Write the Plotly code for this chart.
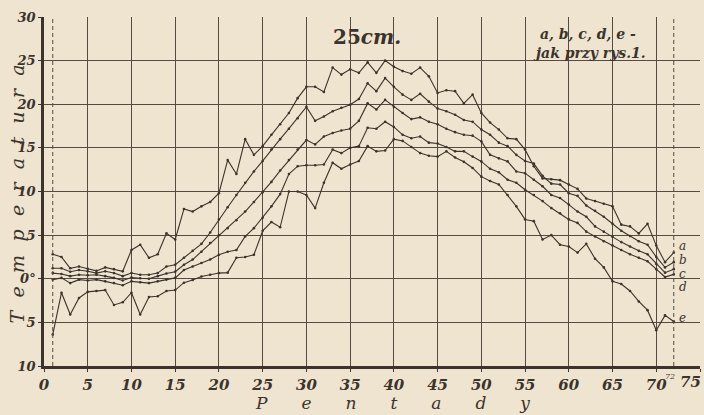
import plotly.graph_objects as go

pentads = list(range(1, 73))

series_a = [2.8, 2.5, 1.2, 1.4, 1.15, 0.9, 1.3, 1.1, 0.85, 3.3,
            3.9, 2.4, 2.8, 5.2, 4.5, 8.0, 7.7, 8.3, 8.8, 9.8,
            13.6, 12.0, 16.0, 14.2, 15.2, 16.5, 17.7, 19.0, 20.7, 22.0,
            22.0, 21.4, 24.2, 23.4, 24.0, 23.6, 24.8, 23.6, 25.0, 24.3,
            23.8, 23.5, 24.2, 23.2, 21.3, 21.6, 21.5, 20.1, 21.1, 19.0,
            17.9, 17.1, 16.1, 16.0, 14.8, 12.9, 11.5, 11.4, 11.3, 10.8,
            10.3, 9.2, 8.9, 8.6, 8.3, 6.2, 6.0, 5.2, 6.3, 3.8,
            1.9, 3.0]
series_b = [1.2, 1.2, 0.8, 1.0, 0.85, 0.65, 0.85, 0.65, 0.3, 0.65,
            0.45, 0.45, 0.65, 1.4, 1.6, 2.4, 3.2, 4.0, 5.3, 6.8,
            8.2, 9.6, 11.0, 12.3, 13.5, 14.8, 16.0, 17.2, 18.4, 19.7,
            18.1, 18.6, 19.2, 19.6, 19.95, 20.6, 22.4, 21.5, 23.0, 22.0,
            21.1, 20.5, 21.2, 20.3, 19.5, 19.2, 18.8, 18.2, 18.0, 17.1,
            16.5, 15.6, 15.2, 14.2, 13.5, 13.2, 11.8, 10.9, 10.8, 9.8,
            9.5, 8.4, 7.8, 7.1, 6.3, 5.5, 4.9, 4.3, 3.9, 2.5,
            1.3, 1.9]
series_c = [0.65, 0.55, 0.3, 0.45, 0.4, 0.45, 0.3, 0.1, -0.2, 0.15,
            0.05, 0.0, 0.3, 0.6, 0.8, 1.6, 2.2, 3.1, 4.1, 5.0,
            5.8, 6.7, 7.7, 8.8, 9.9, 11.1, 12.4, 13.6, 14.8, 15.9,
            15.4, 16.3, 16.7, 17.0, 17.2, 18.1, 20.1, 19.4, 20.5, 19.7,
            19.0, 18.3, 18.5, 18.0, 17.7, 17.2, 16.8, 16.5, 16.4, 15.75,
            14.2, 13.8, 13.45, 12.3, 12.1, 11.35, 10.6, 9.6, 9.25, 8.5,
            7.7, 7.1, 6.0, 5.4, 4.8, 4.2, 3.7, 3.2, 2.8, 1.7,
            0.7, 1.1]
series_d = [-0.1, 0.1, -0.5, -0.1, -0.2, -0.1, -0.3, -0.5, -0.75, -0.3,
            -0.4, -0.5, -0.3, -0.1, 0.1, 1.0, 1.4, 1.8, 2.2, 2.75,
            3.1, 3.3, 4.85, 5.8, 7.0, 8.3, 9.7, 12.0, 12.9, 13.0,
            13.0, 13.1, 14.8, 14.4, 15.0, 15.2, 17.3, 17.2, 18.0, 17.4,
            16.5, 16.1, 16.3, 15.6, 15.5, 15.1, 14.6, 14.6, 14.0, 13.45,
            12.6, 12.2, 11.35, 11.0, 10.2, 9.6, 8.9, 8.1, 7.5, 6.8,
            6.4, 5.4, 4.85, 4.3, 3.8, 3.3, 2.8, 2.4, 2.0, 1.1,
            0.2, 0.5]
series_e = [-6.4, -1.6, -4.1, -2.2, -1.5, -1.4, -1.3, -3.0, -2.7, -1.6,
            -4.1, -2.1, -2.0, -1.4, -1.3, -0.45, -0.15, 0.25, 0.45, 0.65,
            0.7, 2.4, 2.5, 2.75, 5.5, 6.5, 5.9, 10.0, 10.0, 9.6,
            8.1, 11.0, 13.3, 12.6, 13.1, 13.5, 15.2, 14.6, 14.7, 16.0,
            15.8, 15.1, 14.4, 14.1, 14.0, 14.6, 13.9, 13.4, 12.7, 11.7,
            11.2, 10.8, 9.6, 8.3, 6.8, 6.6, 4.5, 5.0, 3.9, 3.7,
            3.0, 4.0, 2.3, 1.3, -0.3, -0.6, -1.4, -2.6, -3.6, -5.9,
            -4.2, -4.9]

series = {"a": series_a, "b": series_b, "c": series_c, "d": series_d, "e": series_e}
end_labels = {"a": 3.7, "b": 2.1, "c": 0.6, "d": -1.0, "e": -4.5}

y_tickvals = [-10, -5, 0, 5, 10, 15, 20, 25, 30]
y_ticktext = ["10", "5", "0°", "5", "10", "15", "20", "25", "30"]
x_tickvals = list(range(0, 80, 5))
x_ticktext = [str(v) if v < 75 else "" for v in x_tickvals]

PAPER = "#efe4cf"
INK = "#3b332c"
GRID = "#554b43"
SERIF = "DejaVu Serif, Liberation Serif, serif"

fig = go.Figure()
for name, vals in series.items():
    fig.add_trace(go.Scatter(
        x=pentads, y=vals, mode="lines+markers", name=name,
        line=dict(color=INK, width=1.1),
        marker=dict(size=2.6, color=INK),
        showlegend=False, hoverinfo="skip"))

for name, yv in end_labels.items():
    fig.add_annotation(x=72.35, y=yv, xref="x", yref="y", text=name,
                       showarrow=False, xanchor="left", yanchor="middle",
                       font=dict(family=SERIF, size=12, color=INK, style="italic"))

# dashed reference lines at pentad 1 and 72
for xv in (1, 72):
    fig.add_shape(type="line", xref="x", yref="paper", x0=xv, x1=xv, y0=0, y1=1,
                  line=dict(color=GRID, width=1, dash="4px,3px"))

fig.add_annotation(x=0.493, y=0.943, xref="paper", yref="paper",
                   xanchor="center", yanchor="middle",
                   text="<b>25</b><b><i>cm.</i></b>", showarrow=False,
                   font=dict(family=SERIF, size=20, color=INK))
fig.add_annotation(x=0.829, y=0.951, xref="paper", yref="paper",
                   xanchor="center", yanchor="middle",
                   text="<b><i>a, b, c, d, e -</i></b>", showarrow=False,
                   font=dict(family=SERIF, size=14, color=INK))
fig.add_annotation(x=0.832, y=0.897, xref="paper", yref="paper",
                   xanchor="center", yanchor="middle",
                   text="<b><i>jak przy rys.1.</i></b>", showarrow=False,
                   font=dict(family=SERIF, size=14, color=INK))
fig.add_annotation(x=71.6, y=-0.03, xref="x", yref="paper", text="<i>72</i>",
                   xanchor="center", yanchor="middle",
                   showarrow=False, font=dict(family=SERIF, size=8, color=INK))
fig.add_annotation(x=1.004, y=-0.046, xref="paper", yref="paper", text="<b><i>75</i></b>",
                   xanchor="right", yanchor="middle",
                   showarrow=False, font=dict(family=SERIF, size=15, color=INK))

fig.add_annotation(x=0.531, y=-0.106, xref="paper", yref="paper",
                   xanchor="center", yanchor="middle",
                   text="P\u2003\u2003e\u2003\u2003n\u2003\u2003t\u2003\u2003a\u2003\u2003d\u2003\u2003y",
                   showarrow=False,
                   font=dict(family=SERIF, size=17, color=INK, style="italic"))
fig.add_annotation(x=-0.042, y=0.493, xref="paper", yref="paper", textangle=-90,
                   xanchor="center", yanchor="middle",
                   text="T\u2002\u2009e\u2002\u2009m\u2002\u2009p\u2002\u2009e\u2002\u2009r\u2002\u2009a\u2002\u2009t\u2002\u2009u\u2002\u2009r\u2002\u2009a",
                   showarrow=False,
                   font=dict(family=SERIF, size=19, color=INK, style="italic"))

fig.update_layout(
    width=704, height=415,
    margin=dict(l=44, r=4, t=17, b=49),
    paper_bgcolor=PAPER, plot_bgcolor=PAPER,
    xaxis=dict(range=[0, 75], tickvals=x_tickvals, ticktext=x_ticktext,
               showgrid=True, gridcolor=GRID, gridwidth=1.3,
               zeroline=False, showline=True, linecolor=INK, linewidth=2.5,
               ticks="outside", ticklen=3, tickcolor=INK, automargin=False,
               tickfont=dict(family=SERIF, size=15, color=INK, style="italic", weight="bold")),
    yaxis=dict(range=[-10, 30], tickvals=y_tickvals, ticktext=y_ticktext,
               showgrid=True, gridcolor=GRID, gridwidth=1.3,
               zeroline=False, showline=True, linecolor=INK, linewidth=2.5,
               ticks="outside", ticklen=3, tickcolor=INK, automargin=False,
               tickfont=dict(family=SERIF, size=13, color=INK, style="italic", weight="bold")),
)

fig.write_html(
    "out.html",
    config={"displayModeBar": False},
    post_script="document.body.style.margin='0';document.body.style.background='#efe4cf';",
)
